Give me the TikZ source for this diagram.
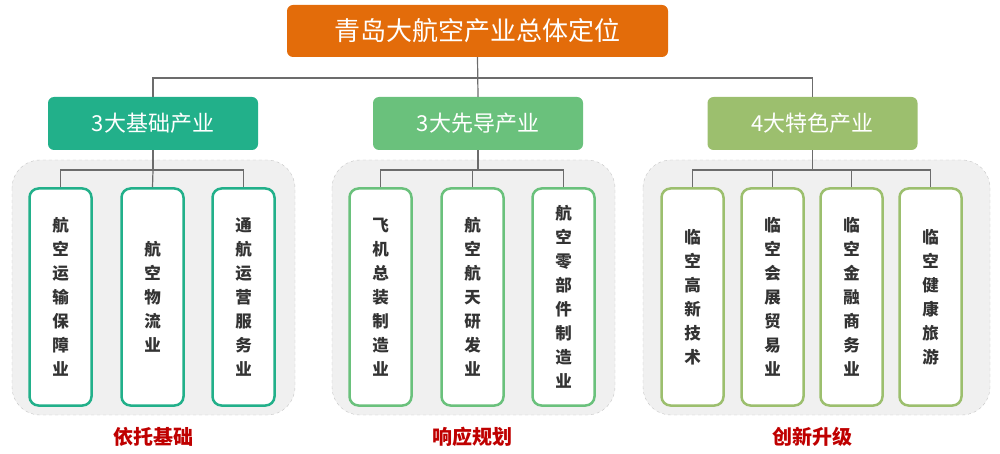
\documentclass[tikz,border=0pt]{standalone}
\usepackage{fontspec}
\setmainfont{Noto Sans CJK SC}
\begin{document}
\begin{tikzpicture}[x=1pt,y=-1pt,
  conn/.style={draw=gray!85!black,line width=1.2pt},
  lvl/.style={rounded corners=6pt,minimum height=53pt,minimum width=210pt,text=white,font=\fontsize{22}{24}\selectfont},
  panel/.style={draw=gray!45,dashed,fill=gray!12,rounded corners=28pt},
  leaf/.style={draw=#1,line width=2.5pt,fill=white,rounded corners=9pt,minimum width=62pt,minimum height=217pt,inner sep=0pt,align=center,text=black!80,font=\bfseries\fontsize{16.5}{24}\selectfont},
  tag/.style={text=red!75!black,font=\bfseries\fontsize{20}{22}\selectfont}]
\definecolor{orng}{HTML}{E36C0A}
\definecolor{tealc}{HTML}{22B08A}
\definecolor{grnc}{HTML}{6AC17C}
\definecolor{olvc}{HTML}{9CBF6E}
\useasboundingbox (0,0) rectangle (1000,454);
% panels
\path[panel] (12,160) rectangle (295,415);
\path[panel] (332,160) rectangle (615,415);
\path[panel] (643,160) rectangle (990,415);
% top
\node[fill=orng,rounded corners=6pt,minimum width=381pt,minimum height=52pt,text=white,font=\fontsize{26}{28}\selectfont] (top) at (477.5,31) {青岛大航空产业总体定位};
\node[lvl,fill=tealc] (b1) at (153,123.5) {3大基础产业};
\node[lvl,fill=grnc] (b2) at (478,123.5) {3大先导产业};
\node[lvl,fill=olvc] (b3) at (812.5,123.5) {4大特色产业};
\coordinate (h) at (478,78);
\draw[conn] (top.south) -- (b2.north);
\draw[conn] (b1.north) |- (h) -| (b3.north);
% leaves
\node[leaf=tealc] (a1) at (60.5,297) {航\\空\\运\\输\\保\\障\\业};
\node[leaf=tealc] (a2) at (152.5,297) {航\\空\\物\\流\\业};
\node[leaf=tealc] (a3) at (243.5,297) {通\\航\\运\\营\\服\\务\\业};
\node[leaf=grnc] (c1) at (380.5,297) {飞\\机\\总\\装\\制\\造\\业};
\node[leaf=grnc] (c2) at (472.5,297) {航\\空\\航\\天\\研\\发\\业};
\node[leaf=grnc] (c3) at (563.5,297) {航\\空\\零\\部\\件\\制\\造\\业};
\node[leaf=olvc] (d1) at (692.5,297) {临\\空\\高\\新\\技\\术};
\node[leaf=olvc] (d2) at (772.5,297) {临\\空\\会\\展\\贸\\易\\业};
\node[leaf=olvc] (d3) at (851.5,297) {临\\空\\金\\融\\商\\务\\业};
\node[leaf=olvc] (d4) at (930.5,297) {临\\空\\健\\康\\旅\\游};
% group connectors
\coordinate (g1) at (153,170);
\coordinate (g2) at (478,170);
\coordinate (g3) at (812.5,170);
\draw[conn] (b1.south) -- (g1);
\draw[conn] (a1.north) |- (g1) -| (a3.north);
\draw[conn] (g1) -- (a2.north);
\draw[conn] (b2.south) -- (g2);
\draw[conn] (c1.north) |- (g2) -| (c3.north);
\draw[conn] (g2) -| (c2.north);
\draw[conn] (b3.south) -- (g3);
\draw[conn] (d1.north) |- (g3) -| (d4.north);
\draw[conn] (g3) -| (d2.north);
\draw[conn] (g3) -| (d3.north);
% tags
\node[tag] (t1) at (153,437) {依托基础};
\node[tag] (t2) at (472,437) {响应规划};
\node[tag] (t3) at (812,437) {创新升级};
\end{tikzpicture}
\end{document}
